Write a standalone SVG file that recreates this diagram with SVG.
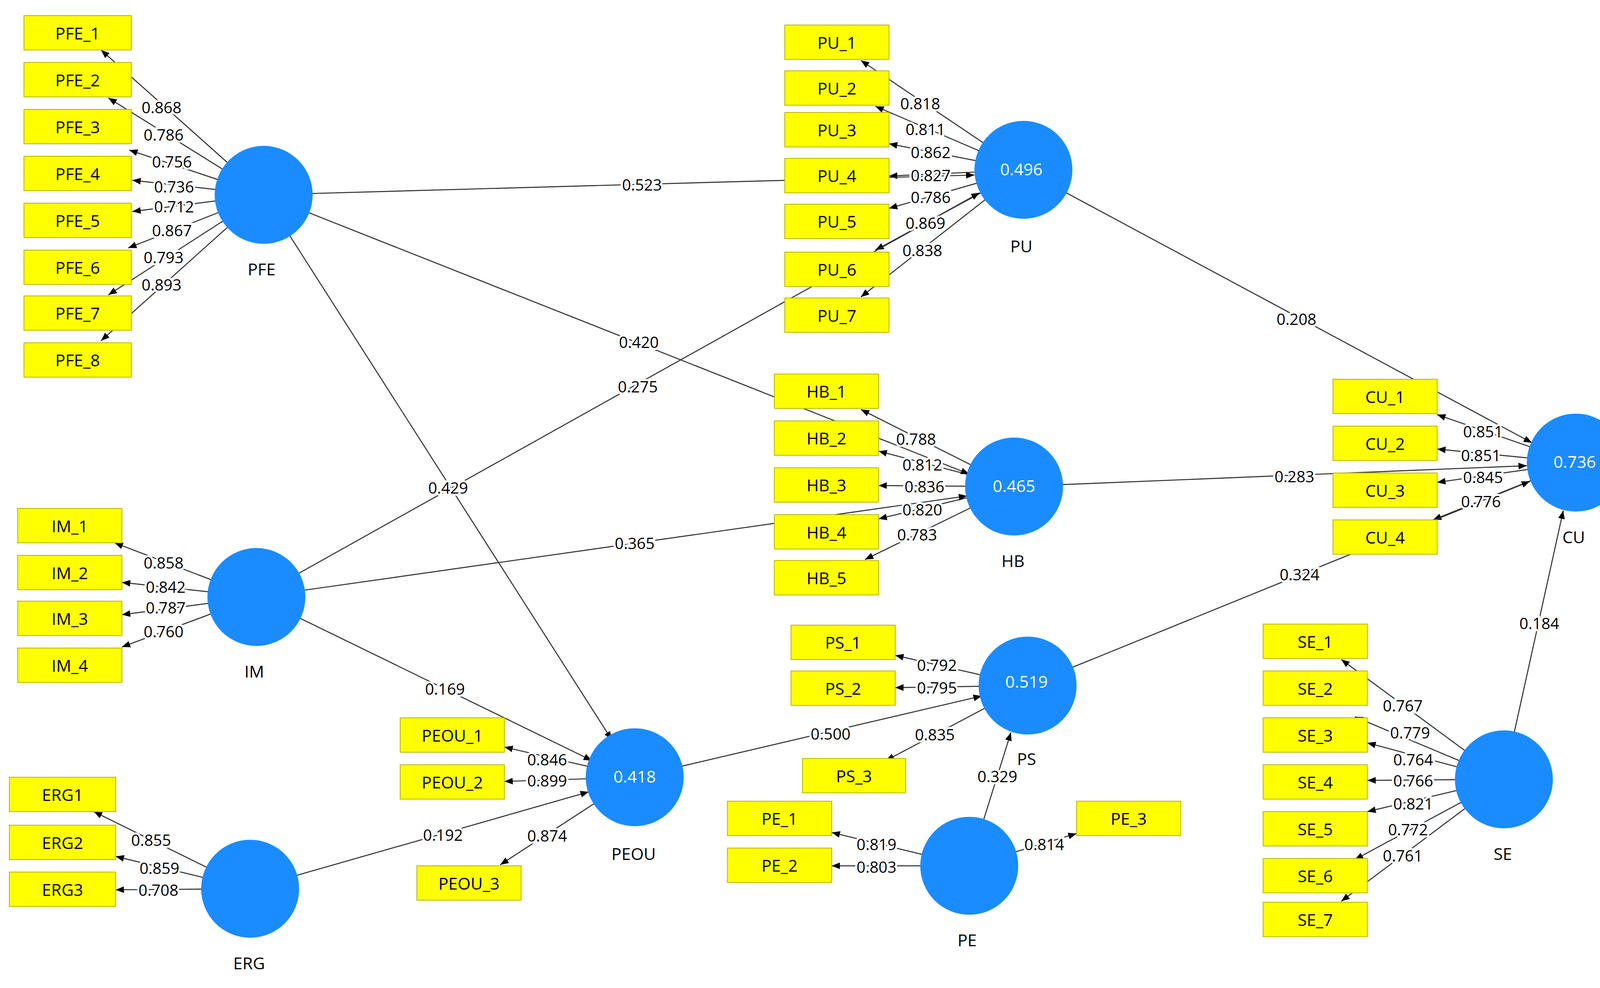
<svg xmlns="http://www.w3.org/2000/svg" width="4173" height="2530" viewBox="0 0 4173 2530">
<style>
.r{fill:#ffff00;stroke:#b8b800;stroke-width:0.8}
.t{font-family:"Open Sans","Liberation Sans",sans-serif;font-size:16px;fill:#000;text-anchor:middle;dominant-baseline:central}
.n{font-family:"Open Sans","Liberation Sans",sans-serif;font-size:15px;fill:#000;text-anchor:middle;dominant-baseline:central;paint-order:stroke;stroke:#fff;stroke-width:4px}
.c{fill:#1a8cff}
.v{font-family:"Open Sans","Liberation Sans",sans-serif;font-size:16px;fill:#fff;text-anchor:middle;dominant-baseline:central}
.l{stroke:#333;stroke-width:1;fill:none;marker-end:url(#a)}
</style>
<defs><marker id="a" viewBox="0 0 10 10" refX="10" refY="5" markerWidth="8" markerHeight="8" orient="auto" markerUnits="userSpaceOnUse"><path d="M0,1 L10,5 L0,9 z" fill="#000"/></marker></defs>
<rect width="4173" height="2530" fill="#fff"/>
<g transform="scale(2.668)">
<g id="connectors">
<path class="l" d="M253,187 L97,48"/><path class="l" d="M253,187 L104,94"/><path class="l" d="M253,187 L124,144"/><path class="l" d="M253,187 L127,173"/><path class="l" d="M253,187 L127,203"/><path class="l" d="M253,187 L123,238"/><path class="l" d="M253,187 L104,283"/><path class="l" d="M253,187 L97,327"/>
<path class="l" d="M982,163 L826,58"/><path class="l" d="M982,163 L840,102"/><path class="l" d="M982,163 L853,138"/><path class="l" d="M982,163 L853,169"/><path class="l" d="M982,163 L853,200"/><path class="l" d="M982,163 L840,240"/><path class="l" d="M982,163 L826,285"/>
<path class="l" d="M973,467 L826,393"/><path class="l" d="M973,467 L843,433"/><path class="l" d="M973,467 L843,466"/><path class="l" d="M973,467 L843,498"/><path class="l" d="M973,467 L830,537"/>
<path class="l" d="M1512,444 L1379,398"/><path class="l" d="M1512,444 L1379,431"/><path class="l" d="M1512,444 L1379,463"/><path class="l" d="M1512,444 L1375,499"/>
<path class="l" d="M246,573 L110,521"/><path class="l" d="M246,573 L117,559"/><path class="l" d="M246,573 L117,590"/><path class="l" d="M246,573 L117,621"/>
<path class="l" d="M609,746 L484,717"/><path class="l" d="M609,746 L484,750"/><path class="l" d="M609,746 L480,830"/>
<path class="l" d="M240,853 L90,779"/><path class="l" d="M240,853 L111,822"/><path class="l" d="M240,853 L111,854"/>
<path class="l" d="M986,658 L859,629"/><path class="l" d="M986,658 L859,660"/><path class="l" d="M986,658 L850,730"/>
<path class="l" d="M930,831 L798,799"/><path class="l" d="M930,831 L798,831"/><path class="l" d="M930,831 L1033,800"/>
<path class="l" d="M1443,748 L1287,633"/><path class="l" d="M1443,748 L1300,688"/><path class="l" d="M1443,748 L1312,713"/><path class="l" d="M1443,748 L1312,749"/><path class="l" d="M1443,748 L1312,779"/><path class="l" d="M1443,748 L1300,825"/><path class="l" d="M1443,748 L1287,865"/>
<path class="l" d="M253,187 L935,168"/><path class="l" d="M253,187 L930,455"/><path class="l" d="M253,187 L587,710"/>
<path class="l" d="M246,573 L940,185"/><path class="l" d="M246,573 L928,476"/><path class="l" d="M246,573 L568,730"/>
<path class="l" d="M240,853 L565,760"/><path class="l" d="M609,746 L942,668"/><path class="l" d="M930,831 L970,703"/>
<path class="l" d="M982,163 L1470,425"/><path class="l" d="M973,467 L1465,447"/><path class="l" d="M986,658 L1468,462"/><path class="l" d="M1443,748 L1500,490"/>
</g>
<g id="labels">
<text class="n" x="155" y="103">0.868</text><text class="n" x="157" y="129">0.786</text><text class="n" x="165" y="155">0.756</text><text class="n" x="167" y="179">0.736</text><text class="n" x="167" y="198">0.712</text><text class="n" x="165" y="221">0.867</text><text class="n" x="157" y="247">0.793</text><text class="n" x="155" y="273">0.893</text>
<text class="n" x="883" y="99">0.818</text><text class="n" x="888" y="124">0.811</text><text class="n" x="893" y="146">0.862</text><text class="n" x="893" y="168">0.827</text><text class="n" x="893" y="189">0.786</text><text class="n" x="888" y="214">0.869</text><text class="n" x="885" y="240">0.838</text>
<text class="n" x="879" y="421">0.788</text><text class="n" x="885" y="446">0.812</text><text class="n" x="887" y="467">0.836</text><text class="n" x="885" y="489">0.820</text><text class="n" x="880" y="513">0.783</text>
<text class="n" x="1423" y="414">0.851</text><text class="n" x="1421" y="437">0.851</text><text class="n" x="1423" y="458">0.845</text><text class="n" x="1421" y="481">0.776</text>
<text class="n" x="157" y="540">0.858</text><text class="n" x="159" y="563">0.842</text><text class="n" x="159" y="583">0.787</text><text class="n" x="157" y="606">0.760</text>
<text class="n" x="525" y="729">0.846</text><text class="n" x="525" y="749">0.899</text><text class="n" x="525" y="802">0.874</text>
<text class="n" x="145" y="806">0.855</text><text class="n" x="153" y="833">0.859</text><text class="n" x="152" y="854">0.708</text>
<text class="n" x="899" y="638">0.792</text><text class="n" x="899" y="660">0.795</text><text class="n" x="897" y="705">0.835</text>
<text class="n" x="841" y="810">0.819</text><text class="n" x="841" y="832">0.803</text><text class="n" x="1002" y="810">0.814</text>
<text class="n" x="1346" y="677">0.767</text><text class="n" x="1353" y="703">0.779</text><text class="n" x="1356" y="729">0.764</text><text class="n" x="1356" y="749">0.766</text><text class="n" x="1356" y="771">0.821</text><text class="n" x="1351" y="796">0.772</text><text class="n" x="1346" y="821">0.761</text>
<text class="n" x="616" y="177">0.523</text><text class="n" x="613" y="328">0.420</text><text class="n" x="430" y="468">0.429</text><text class="n" x="612" y="371">0.275</text><text class="n" x="609" y="521">0.365</text><text class="n" x="427" y="661">0.169</text><text class="n" x="425" y="801">0.192</text><text class="n" x="797" y="704">0.500</text><text class="n" x="957" y="745">0.329</text><text class="n" x="1244" y="306">0.208</text><text class="n" x="1242" y="457">0.283</text><text class="n" x="1247" y="551">0.324</text><text class="n" x="1477" y="598">0.184</text>
</g>
<g id="indicators">
<g id="PFE_1"><rect class="r" x="23" y="15" width="103" height="33"/><text class="t" x="74.5" y="31.5">PFE_1</text></g>
<g id="PFE_2"><rect class="r" x="23" y="60" width="103" height="33"/><text class="t" x="74.5" y="76.5">PFE_2</text></g>
<g id="PFE_3"><rect class="r" x="23" y="105" width="103" height="33"/><text class="t" x="74.5" y="121.5">PFE_3</text></g>
<g id="PFE_4"><rect class="r" x="23" y="150" width="103" height="33"/><text class="t" x="74.5" y="166.5">PFE_4</text></g>
<g id="PFE_5"><rect class="r" x="23" y="195" width="103" height="33"/><text class="t" x="74.5" y="211.5">PFE_5</text></g>
<g id="PFE_6"><rect class="r" x="23" y="240" width="103" height="33"/><text class="t" x="74.5" y="256.5">PFE_6</text></g>
<g id="PFE_7"><rect class="r" x="23" y="284" width="103" height="33"/><text class="t" x="74.5" y="300.5">PFE_7</text></g>
<g id="PFE_8"><rect class="r" x="23" y="329" width="103" height="33"/><text class="t" x="74.5" y="345.5">PFE_8</text></g>
<g id="PU_1"><rect class="r" x="753" y="24" width="100" height="33"/><text class="t" x="803" y="40.5">PU_1</text></g>
<g id="PU_2"><rect class="r" x="753" y="68" width="100" height="33"/><text class="t" x="803" y="84.5">PU_2</text></g>
<g id="PU_3"><rect class="r" x="753" y="108" width="100" height="33"/><text class="t" x="803" y="124.5">PU_3</text></g>
<g id="PU_4"><rect class="r" x="753" y="152" width="100" height="33"/><text class="t" x="803" y="168.5">PU_4</text></g>
<g id="PU_5"><rect class="r" x="753" y="196" width="100" height="33"/><text class="t" x="803" y="212.5">PU_5</text></g>
<g id="PU_6"><rect class="r" x="753" y="242" width="100" height="33"/><text class="t" x="803" y="258.5">PU_6</text></g>
<g id="PU_7"><rect class="r" x="753" y="286" width="100" height="33"/><text class="t" x="803" y="302.5">PU_7</text></g>
<g id="HB_1"><rect class="r" x="743" y="359" width="100" height="33"/><text class="t" x="793" y="375.5">HB_1</text></g>
<g id="HB_2"><rect class="r" x="743" y="404" width="100" height="33"/><text class="t" x="793" y="420.5">HB_2</text></g>
<g id="HB_3"><rect class="r" x="743" y="449" width="100" height="33"/><text class="t" x="793" y="465.5">HB_3</text></g>
<g id="HB_4"><rect class="r" x="743" y="494" width="100" height="33"/><text class="t" x="793" y="510.5">HB_4</text></g>
<g id="HB_5"><rect class="r" x="743" y="538" width="100" height="33"/><text class="t" x="793" y="554.5">HB_5</text></g>
<g id="CU_1"><rect class="r" x="1279" y="364" width="100" height="33"/><text class="t" x="1329" y="380.5">CU_1</text></g>
<g id="CU_2"><rect class="r" x="1279" y="409" width="100" height="33"/><text class="t" x="1329" y="425.5">CU_2</text></g>
<g id="CU_3"><rect class="r" x="1279" y="454" width="100" height="33"/><text class="t" x="1329" y="470.5">CU_3</text></g>
<g id="CU_4"><rect class="r" x="1279" y="499" width="100" height="33"/><text class="t" x="1329" y="515.5">CU_4</text></g>
<g id="IM_1"><rect class="r" x="17" y="488" width="100" height="33"/><text class="t" x="67" y="504.5">IM_1</text></g>
<g id="IM_2"><rect class="r" x="17" y="533" width="100" height="33"/><text class="t" x="67" y="549.5">IM_2</text></g>
<g id="IM_3"><rect class="r" x="17" y="577" width="100" height="33"/><text class="t" x="67" y="593.5">IM_3</text></g>
<g id="IM_4"><rect class="r" x="17" y="622" width="100" height="33"/><text class="t" x="67" y="638.5">IM_4</text></g>
<g id="PEOU_1"><rect class="r" x="384" y="689" width="100" height="33"/><text class="t" x="434" y="705.5">PEOU_1</text></g>
<g id="PEOU_2"><rect class="r" x="384" y="734" width="100" height="33"/><text class="t" x="434" y="750.5">PEOU_2</text></g>
<g id="PEOU_3"><rect class="r" x="400" y="831" width="100" height="33"/><text class="t" x="450" y="847.5">PEOU_3</text></g>
<g id="ERG1"><rect class="r" x="9" y="746" width="102" height="33"/><text class="t" x="60" y="762.5">ERG1</text></g>
<g id="ERG2"><rect class="r" x="9" y="792" width="102" height="33"/><text class="t" x="60" y="808.5">ERG2</text></g>
<g id="ERG3"><rect class="r" x="9" y="837" width="102" height="33"/><text class="t" x="60" y="853.5">ERG3</text></g>
<g id="PS_1"><rect class="r" x="759" y="600" width="100" height="33"/><text class="t" x="809" y="616.5">PS_1</text></g>
<g id="PS_2"><rect class="r" x="759" y="644" width="100" height="33"/><text class="t" x="809" y="660.5">PS_2</text></g>
<g id="PS_3"><rect class="r" x="770" y="728" width="99" height="33"/><text class="t" x="819.5" y="744.5">PS_3</text></g>
<g id="PE_1"><rect class="r" x="698" y="769" width="100" height="33"/><text class="t" x="748" y="785.5">PE_1</text></g>
<g id="PE_2"><rect class="r" x="698" y="814" width="100" height="33"/><text class="t" x="748" y="830.5">PE_2</text></g>
<g id="PE_3"><rect class="r" x="1033" y="769" width="100" height="33"/><text class="t" x="1083" y="785.5">PE_3</text></g>
<g id="SE_1"><rect class="r" x="1212" y="599" width="100" height="33"/><text class="t" x="1262" y="615.5">SE_1</text></g>
<g id="SE_2"><rect class="r" x="1212" y="644" width="100" height="33"/><text class="t" x="1262" y="660.5">SE_2</text></g>
<g id="SE_3"><rect class="r" x="1212" y="689" width="100" height="33"/><text class="t" x="1262" y="705.5">SE_3</text></g>
<g id="SE_4"><rect class="r" x="1212" y="734" width="100" height="33"/><text class="t" x="1262" y="750.5">SE_4</text></g>
<g id="SE_5"><rect class="r" x="1212" y="779" width="100" height="33"/><text class="t" x="1262" y="795.5">SE_5</text></g>
<g id="SE_6"><rect class="r" x="1212" y="824" width="100" height="33"/><text class="t" x="1262" y="840.5">SE_6</text></g>
<g id="SE_7"><rect class="r" x="1212" y="866" width="100" height="33"/><text class="t" x="1262" y="882.5">SE_7</text></g>
</g>
<g id="constructs">
<g id="PFE"><circle class="c" cx="253" cy="187" r="47"/><text class="t" x="251" y="258">PFE</text></g>
<g id="PU"><circle class="c" cx="982" cy="163" r="47"/><text class="v" x="980" y="162">0.496</text><text class="t" x="980" y="236">PU</text></g>
<g id="HB"><circle class="c" cx="973" cy="467" r="47"/><text class="v" x="973" y="466">0.465</text><text class="t" x="972" y="538">HB</text></g>
<g id="CU"><circle class="c" cx="1512" cy="444" r="47"/><text class="v" x="1511" y="443">0.736</text><text class="t" x="1510" y="515">CU</text></g>
<g id="IM"><circle class="c" cx="246" cy="573" r="47"/><text class="t" x="244" y="644">IM</text></g>
<g id="PEOU"><circle class="c" cx="609" cy="746" r="47"/><text class="v" x="609" y="745">0.418</text><text class="t" x="608" y="819">PEOU</text></g>
<g id="PS"><circle class="c" cx="986" cy="658" r="47"/><text class="v" x="985" y="654">0.519</text><text class="t" x="985" y="728">PS</text></g>
<g id="SE"><circle class="c" cx="1443" cy="748" r="47"/><text class="t" x="1442" y="819">SE</text></g>
<g id="ERG"><circle class="c" cx="240" cy="853" r="47"/><text class="t" x="239" y="924">ERG</text></g>
<g id="PE"><circle class="c" cx="930" cy="831" r="47"/><text class="t" x="928" y="902">PE</text></g>
</g>
</g>
</svg>
